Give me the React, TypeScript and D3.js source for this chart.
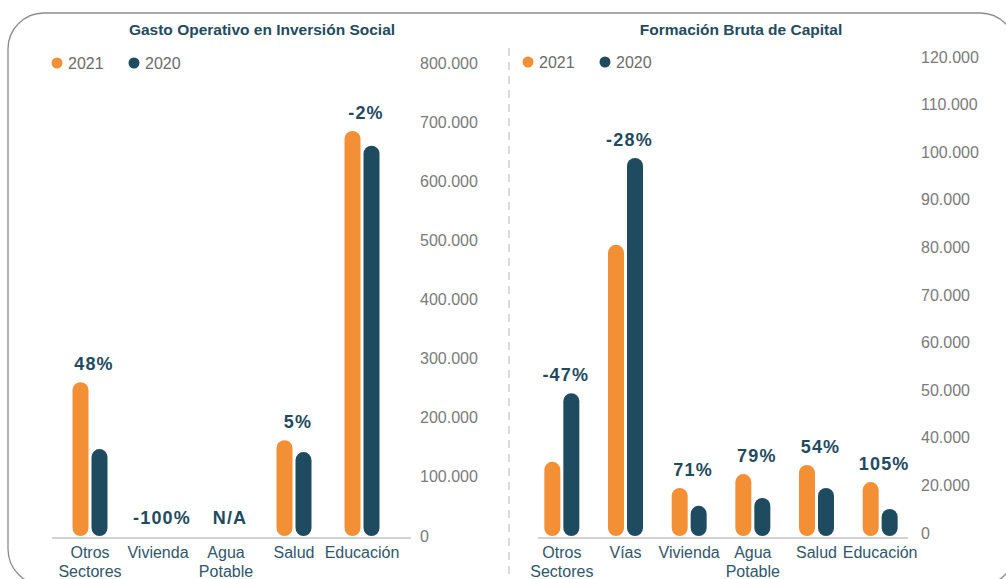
import React from "react";
import * as d3 from "d3";

// ---------- data ----------
const leftTitle = "Gasto Operativo en Inversión Social";
const leftCategories = [["Otros", "Sectores"], ["Vivienda"], ["Agua", "Potable"], ["Salud"], ["Educación"]];
const left2021 = [260000, 0, 0, 162000, 685000];
const left2020 = [147000, 0, 0, 142000, 660000];
const leftPct = ["48%", "-100%", "N/A", "5%", "-2%"];
const leftTicks = [0, 100000, 200000, 300000, 400000, 500000, 600000, 700000, 800000];

const rightTitle = "Formación Bruta de Capital";
const rightCategories = [["Otros", "Sectores"], ["Vías"], ["Vivienda"], ["Agua", "Potable"], ["Salud"], ["Educación"]];
const right2021 = [18700, 73400, 12100, 15600, 17900, 13600];
const right2020 = [36000, 95300, 7600, 9600, 12100, 6800];
const rightPct = ["-47%", "-28%", "71%", "79%", "54%", "105%"];
const rightTickLabels = ["0", "20.000", "40.000", "50.000", "60.000", "70.000", "80.000", "90.000", "100.000", "110.000", "120.000"];

const seriesNames = ["2021", "2020"];

// ---------- style ----------
const ORANGE = "#F39035";
const NAVY = "#1E4B60";
const TITLE = "#1F4B60";
const CAT = "#2F566B";
const TICK = "#7A7A7A";
const FONT = "'Liberation Sans', Arial, Helvetica, sans-serif";
const fmt = d3.formatLocale({ decimal: ",", thousands: ".", grouping: [3], currency: ["", ""] }).format(",");

type PanelProps = {
  title: string;
  titleX: number;
  titleSize: number;
  cats: string[][];
  a: number[];
  b: number[];
  pct: string[];
  x0: number;
  x1: number;
  y: d3.ScaleLinear<number, number>;
  ticks: { v: number; label: string }[];
  tickX: number;
  tickDy: number;
  legendX: number;
  legendY: number;
  lineX0: number;
  lineX1: number;
  labelY: number;
};

function Panel(p: PanelProps) {
  const x = d3.scaleBand<number>().domain(d3.range(p.cats.length)).range([p.x0, p.x1]).padding(0);
  const bw = 16;
  const gap = 3;
  const base = p.y(0);
  return (
    <g>
      <text x={p.titleX} y={35} textAnchor="middle" fontFamily={FONT} fontWeight="bold" fontSize={p.titleSize} fill={TITLE}>
        {p.title}
      </text>
      {seriesNames.map((s, i) => (
        <g key={s} transform={`translate(${p.legendX + i * 77},${p.legendY})`}>
          <circle cx={0} cy={0} r={5.5} fill={i === 0 ? ORANGE : NAVY} />
          <text x={11} y={0} dominantBaseline="central" fontFamily={FONT} fontSize={16} fill="#6b6b6b">
            {s}
          </text>
        </g>
      ))}
      {p.ticks.map((t) => (
        <text
          key={t.label}
          x={p.tickX}
          y={p.y(t.v) + p.tickDy}
          dominantBaseline="central"
          fontFamily={FONT}
          fontSize={16}
          fill={TICK}
        >
          {t.label}
        </text>
      ))}
      <line x1={p.lineX0} x2={p.lineX1} y1={base + 2} y2={base + 2} stroke="#d3d3d3" strokeWidth={2} />
      {p.cats.map((c, i) => {
        const cx = (x(i) as number) + x.bandwidth() / 2;
        const va = p.a[i];
        const vb = p.b[i];
        const ya = p.y(va);
        const yb = p.y(vb);
        const top = Math.min(ya, yb, base);
        return (
          <g key={i}>
            {va > 0 && (
              <rect x={cx - gap / 2 - bw} y={ya} width={bw} height={base - ya} rx={bw / 2} fill={ORANGE} />
            )}
            {vb > 0 && <rect x={cx + gap / 2} y={yb} width={bw} height={base - yb} rx={bw / 2} fill={NAVY} />}
            <text
              x={cx + 4}
              y={top - 12}
              textAnchor="middle"
              fontFamily={FONT}
              fontWeight="bold"
              fontSize={18}
              letterSpacing={1.2}
              fill={TITLE}
            >
              {p.pct[i]}
            </text>
            <text x={cx} y={p.labelY} textAnchor="middle" fontFamily={FONT} fontSize={16} fill={CAT}>
              {c.map((line, j) => (
                <tspan key={j} x={cx} dy={j === 0 ? 0 : 19}>
                  {line}
                </tspan>
              ))}
            </text>
          </g>
        );
      })}
    </g>
  );
}

export default function App() {
  const W = 1006;
  const H = 579;
  const yLeft = d3.scaleLinear().domain([0, 800000]).range([536, 63]);
  const rightMax = 120000;
  const yRight = d3.scaleLinear().domain([0, rightMax]).range([536, 60]);
  const step = rightMax / (rightTickLabels.length - 1);
  const rightTicks = rightTickLabels.map((label, i) => ({ v: i * step, label }));
  const leftTickObjs = leftTicks.map((v) => ({ v, label: fmt(v) }));
  return (
    <svg width={W} height={H} style={{ position: "absolute", left: 0, top: 0, background: "#fff" }}>
      <rect x={8} y={13} width={1008} height={572} rx={36} ry={36} fill="none" stroke="#8c8c8c" strokeWidth={1.3} />
      <line x1={509} x2={509} y1={48} y2={579} stroke="#cfcfcf" strokeWidth={1.5} strokeDasharray="8 6" />
      <Panel
        title={leftTitle}
        titleX={262}
        titleSize={15.5}
        cats={leftCategories}
        a={left2021}
        b={left2020}
        pct={leftPct}
        x0={56}
        x1={396}
        y={yLeft}
        ticks={leftTickObjs}
        tickX={420}
        tickDy={0}
        legendX={57}
        legendY={63}
        lineX0={52}
        lineX1={411}
        labelY={558}
      />
      <Panel
        title={rightTitle}
        titleX={741}
        titleSize={15.5}
        cats={rightCategories}
        a={right2021}
        b={right2020}
        pct={rightPct}
        x0={530}
        x1={912}
        y={yRight}
        ticks={rightTicks}
        tickX={921}
        tickDy={-3}
        legendX={528}
        legendY={62}
        lineX0={538}
        lineX1={908}
        labelY={558}
      />
    </svg>
  );
}
